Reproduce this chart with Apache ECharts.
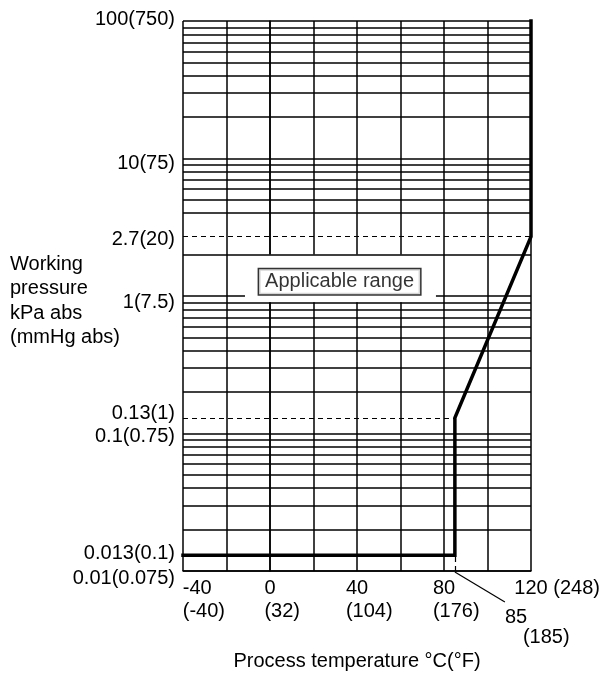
<!DOCTYPE html>
<html><head><meta charset="utf-8">
<script src="https://cdn.jsdelivr.net/npm/echarts@6/dist/echarts.min.js"></script>
<style>html,body{margin:0;padding:0;background:#fff}#c{width:606px;height:675px}</style>
</head><body><div id="c"></div>
<script>
// ---- data ----
const xTickValues = [-40, 0, 40, 80, 120];
const xTickCelsius = ['-40', '0', '40', '80', '120'];
const xTickFahrenheit = ['(-40)', '(32)', '(104)', '(176)', '(248)'];
const yLabelValues = [0.01, 0.013, 0.1, 0.13, 1, 2.7, 10, 100];
const yLabelTexts = ['0.01(0.075)', '0.013(0.1)', '0.1(0.75)', '0.13(1)', '1(7.5)', '2.7(20)', '10(75)', '100(750)'];
const yNameLines = ['Working', 'pressure', 'kPa abs', '(mmHg abs)'];
const gridDecades = [0.01, 0.1, 1, 10];
const gridMultipliers = [2, 3, 4, 5, 6, 7, 8, 9];
const omittedGridValues = [3];
const boundaryTemp = [-40, 85, 85, 120, 120];
const boundaryPressure = [0.013, 0.013, 0.13, 2.7, 100];
const dashedLevels = [2.7, 0.13];
const dashedEndTemp = [120, 85];
const markTempC = '85';
const markTempF = '(185)';
const rangeLabel = 'Applicable range';

// ---- helpers ----
const FONT = '"Liberation Sans", Arial, Helvetica, sans-serif';
const FS = 20;
const mctx = document.createElement('canvas').getContext('2d');
mctx.font = FS + 'px ' + FONT;
const tw = s => mctx.measureText(s).width;

// x labels: first line centred on the tick, second line left-aligned with the first
const xRich = {};
xTickValues.forEach((v, i) => {
  const last = i === xTickValues.length - 1;
  const lines = last ? [xTickCelsius[i] + ' ' + xTickFahrenheit[i]] : [xTickCelsius[i], xTickFahrenheit[i]];
  const W = Math.max(...lines.map(tw));
  const w1 = tw(xTickCelsius[i]);
  const pr = (i === 0) ? (0.5 - W) : (w1 - W);
  xRich['t' + i] = {fontSize: FS, fontFamily: FONT, color: '#000', lineHeight: 23, align: 'left', padding: [0, pr, 0, 0]};
});

// y labels: small vertical nudges (px, + = down)
const yNudge = [7, -2, 3, -4, 6, 3, 5, -2];
const yRich = {};
yNudge.forEach((s, i) => {
  yRich['y' + i] = {fontSize: FS, fontFamily: FONT, color: '#000', padding: [s, 0, -s, 0]};
});

function nearestIdx(arr, v) {
  let best = 0, bd = Infinity;
  arr.forEach((a, i) => { const d = Math.abs(a - v); if (d < bd) { bd = d; best = i; } });
  return best;
}

const minorLines = [];
gridDecades.forEach(d => gridMultipliers.forEach(m => {
  if (omittedGridValues.indexOf(m) >= 0 && d === 1) return;
  minorLines.push({yAxis: +(m * d).toPrecision(6)});
}));

const dashedData = dashedLevels.map((lv, i) => [{coord: [xTickValues[0], lv]}, {coord: [dashedEndTemp[i], lv]}]);
dashedData.push([{coord: [boundaryTemp[1], 0.01]}, {coord: [boundaryTemp[1], boundaryPressure[1]]}]);

const boundaryData = boundaryTemp.map((t, i) => [t, boundaryPressure[i]]);

const chart = echarts.init(document.getElementById('c'), null, {renderer: 'canvas'});
const option = {
  animation: false,
  backgroundColor: '#fff',
  textStyle: {fontFamily: FONT, color: '#000'},
  grid: {left: 183, right: 75, top: 21, bottom: 104, containLabel: false, outerBoundsMode: 'none'},
  xAxis: {
    type: 'value', min: -40, max: 120, interval: 20,
    axisLine: {show: true, onZero: false, lineStyle: {color: '#000', width: 1.5}},
    axisTick: {show: false},
    splitLine: {show: true, showMinLine: true, showMaxLine: true, lineStyle: {color: '#000', width: 1.5}},
    axisLabel: {
      customValues: xTickValues, margin: 6, hideOverlap: false,
      showMinLabel: true, showMaxLabel: true,
      formatter: function (v) {
        const i = nearestIdx(xTickValues, v);
        if (i === xTickValues.length - 1) return '{t' + i + '|' + xTickCelsius[i] + ' ' + xTickFahrenheit[i] + '}';
        return '{t' + i + '|' + xTickCelsius[i] + '}\n{t' + i + '|' + xTickFahrenheit[i] + '}';
      },
      rich: xRich
    },
    name: 'Process temperature °C(°F)', nameLocation: 'middle', nameGap: 80, nameMoveOverlap: false,
    nameTextStyle: {fontSize: FS, fontFamily: FONT, color: '#000'}
  },
  yAxis: {
    type: 'log', logBase: 10, min: 0.01, max: 100,
    axisLine: {show: true, lineStyle: {color: '#000', width: 1.5}},
    axisTick: {show: false},
    splitLine: {show: true, showMinLine: true, showMaxLine: true, lineStyle: {color: '#000', width: 1.5}},
    minorSplitLine: {show: false},
    axisLabel: {
      customValues: yLabelValues, margin: 8, hideOverlap: false,
      showMinLabel: true, showMaxLabel: true,
      formatter: function (v) {
        const i = nearestIdx(yLabelValues.map(Math.log10), v > 0 ? Math.log10(v) : v);
        return '{y' + i + '|' + yLabelTexts[i] + '}';
      },
      rich: yRich
    },
    name: yNameLines.map(s => '{n|' + s + '}').join('\n'),
    nameLocation: 'middle', nameRotate: 0, nameGap: 173, nameMoveOverlap: false,
    nameTextStyle: {fontSize: FS, fontFamily: FONT, color: '#000', align: 'left', verticalAlign: 'middle', lineHeight: 24.5,
      rich: {n: {fontSize: FS, fontFamily: FONT, color: '#000', lineHeight: 24.5, align: 'left', padding: [5, 0, -5, 0]}}}
  },
  series: [
    {
      name: 'mask', type: 'line', data: [], silent: true,
      markArea: {silent: true, z: 1, itemStyle: {color: '#fff'}, label: {show: false},
        data: [[{coord: [-11.5, 0.9]}, {coord: [76.3, 2]}]]}
    },
    {
      name: 'grid', type: 'line', data: [], silent: true,
      markLine: {silent: true, z: 5, symbol: 'none', label: {show: false},
        lineStyle: {color: '#000', width: 1.5, type: 'solid'}, data: minorLines}
    },
    {
      name: 'dashed', type: 'line', data: [], silent: true,
      markLine: {silent: true, z: 5, symbol: 'none', label: {show: false},
        lineStyle: {color: '#000', width: 1.2, type: [5, 4]}, data: dashedData}
    },
    {
      name: 'boundary', type: 'line', data: boundaryData, showSymbol: false, symbol: 'none', clip: false, z: 6,
      lineStyle: {color: '#000', width: 3.5, join: 'miter', cap: 'square'}
    },
    {
      name: 'label', type: 'scatter', data: [[32, 1.27]], symbolSize: 1, z: 10, silent: true,
      itemStyle: {color: 'rgba(0,0,0,0)'},
      label: {show: true, position: 'inside', formatter: rangeLabel, fontSize: FS, fontFamily: FONT, color: '#000',
        backgroundColor: '#fff', borderColor: '#000', borderWidth: 1.5, padding: [3, 6, 2, 6]}
    }
  ]
};
chart.setOption(option);

const p = chart.convertToPixel({gridIndex: 0}, [boundaryTemp[1], 0.01]);
chart.setOption({
  graphic: [
    {type: 'line', shape: {x1: p[0], y1: p[1] + 1, x2: p[0] + 50, y2: p[1] + 31}, style: {stroke: '#000', lineWidth: 1.2}, silent: true},
    {type: 'text', x: p[0] + 50, y: p[1] + 46, style: {text: markTempC, fontSize: FS, fontFamily: FONT, fill: '#000', textVerticalAlign: 'middle'}, silent: true},
    {type: 'text', x: p[0] + 68, y: p[1] + 66, style: {text: markTempF, fontSize: FS, fontFamily: FONT, fill: '#000', textVerticalAlign: 'middle'}, silent: true}
  ]
});
</script></body></html>
